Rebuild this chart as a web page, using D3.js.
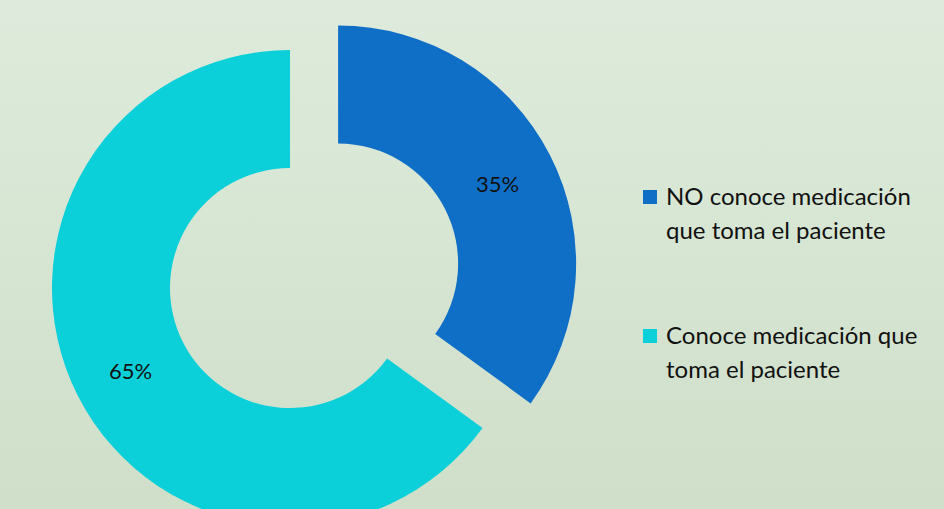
<!DOCTYPE html>
<html>
<head>
<meta charset="utf-8">
<script src="https://cdn.jsdelivr.net/npm/d3@7"></script>
<style>
  body { margin: 0; }
  svg { display: block; }
</style>
</head>
<body>
<svg id="chart" width="944" height="509"></svg>
<script>
var categories = ['NO conoce medicación que toma el paciente', 'Conoce medicación que toma el paciente']
var legendLines = [['NO conoce medicación', 'que toma el paciente'], ['Conoce medicación que', 'toma el paciente']]
var values = [35, 65]
var colors = ['#0f6fc6', '#0bd0d9']

var w_width = 944, w_height = 509
var cx = 290, cy = 288
var outerR = 238, innerR = 120
var explode = 54

var svg = d3.select('#chart')

var defs = svg.append('defs')
var grad = defs.append('linearGradient').attr('id', 'bg').attr('x1', 0).attr('y1', 0).attr('x2', 0).attr('y2', 1)
grad.append('stop').attr('offset', '0%').attr('stop-color', '#deebdc')
grad.append('stop').attr('offset', '100%').attr('stop-color', '#cfdfc9')
svg.append('rect').attr('width', w_width).attr('height', w_height).attr('fill', 'url(#bg)')

var pie = d3.pie().sort(null).value(d => d)
var arcs = pie(values)
var arc = d3.arc().innerRadius(innerR).outerRadius(outerR)

var g = svg.append('g').attr('transform', 'translate(' + cx + ',' + cy + ')')

// first slice is pulled out
function offset(d, i) {
  if (i != 0) return [0, 0]
  var a = (d.startAngle + d.endAngle) / 2
  return [Math.sin(a) * explode, -Math.cos(a) * explode]
}

var slices = g.selectAll('g.slice').data(arcs).enter().append('g').attr('class', 'slice')
  .attr('transform', function(d, i) { var o = offset(d, i); return 'translate(' + o[0] + ',' + o[1] + ')' })

slices.append('path').attr('d', arc).attr('fill', (d, i) => colors[i])

slices.append('text')
  .attr('transform', d => 'translate(' + arc.centroid(d) + ')')
  .attr('text-anchor', 'middle').attr('dy', '0.45em')
  .attr('font-family', 'Lato, sans-serif').attr('font-size', 22).attr('fill', '#111')
  .text(d => d.value + '%')

// legend
var legend = svg.append('g').attr('transform', 'translate(643,205)')
var items = legend.selectAll('g').data(categories).enter().append('g')
  .attr('transform', (d, i) => 'translate(0,' + (i * 139) + ')')

items.append('rect').attr('x', 0).attr('y', -15).attr('width', 14).attr('height', 14)
  .attr('fill', (d, i) => colors[i])

items.each(function(d, i) {
  var t = d3.select(this).append('text')
    .attr('font-family', 'Lato, sans-serif').attr('font-size', 24).attr('fill', '#111')
  legendLines[i].forEach(function(line, j) {
    t.append('tspan').attr('x', 23).attr('y', j * 34).text(line)
  })
})
</script>
</body>
</html>
